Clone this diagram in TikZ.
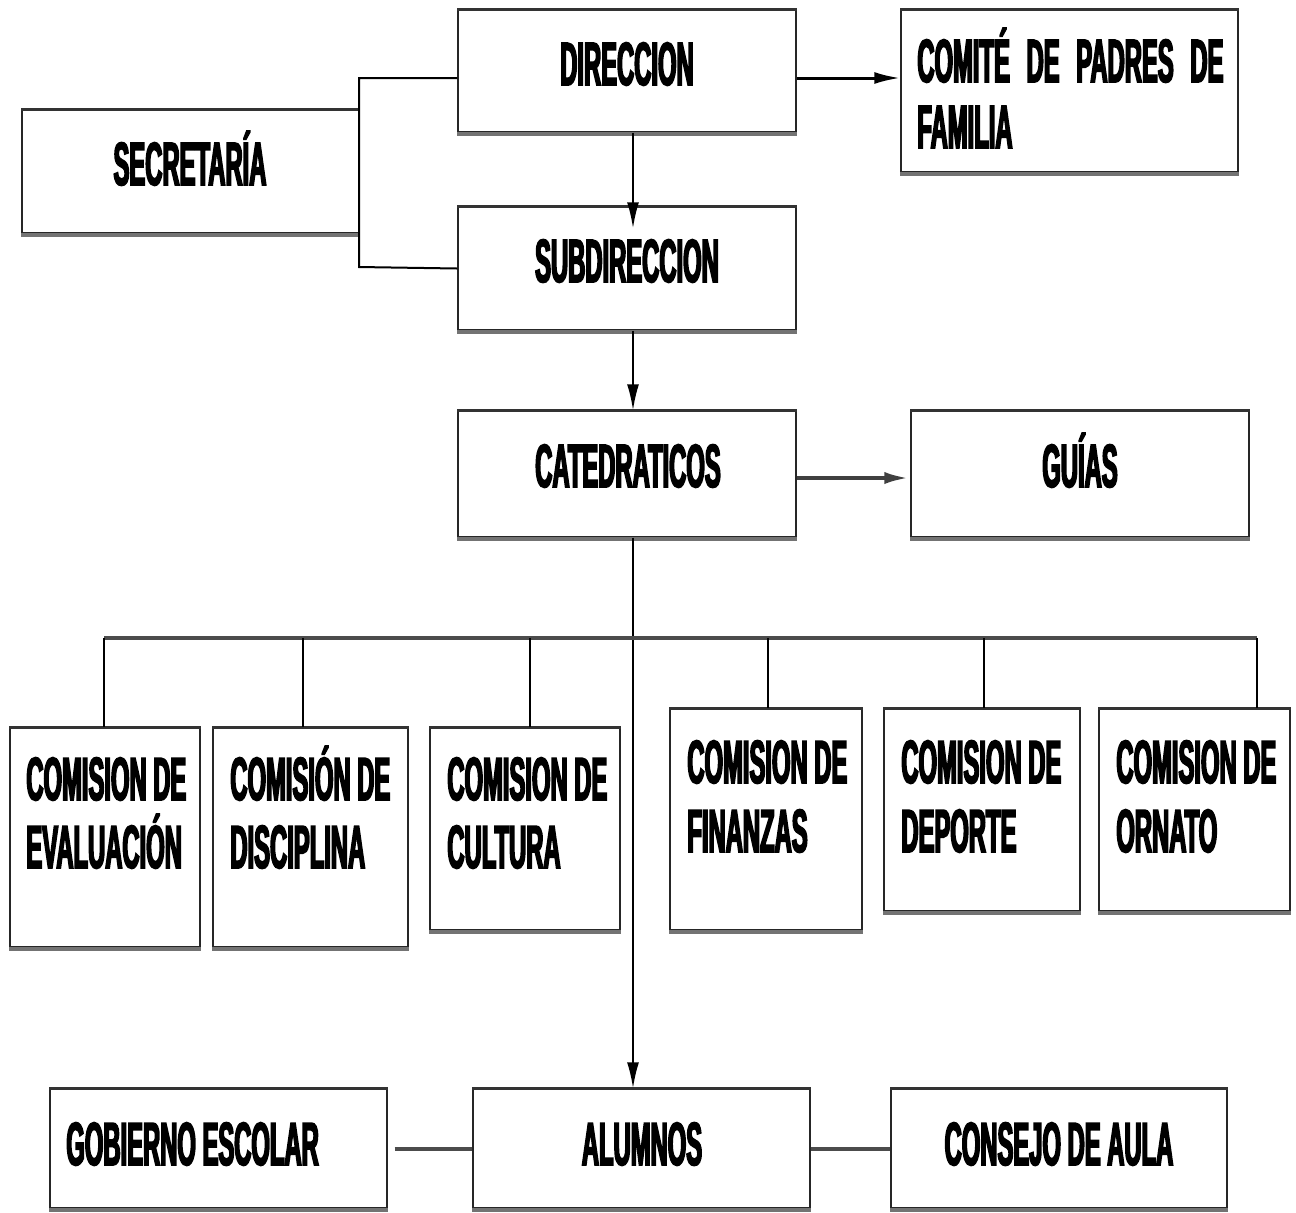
\documentclass[tikz,border=0pt]{standalone}
\usepackage{fontspec}
\usetikzlibrary{arrows.meta,fit}
\newfontfamily\cond{Liberation Sans}[FakeStretch=0.39,FakeBold=2.6]
\tikzset{
  boxst/.style={draw=black!85, line width=0.7pt, fill=white, inner sep=0pt},
  topln/.style={draw=black!80, line width=1.3pt},
  botln/.style={draw=black!55, line width=2pt},
  lbl/.style={font=\cond\bfseries\fontsize{30.5}{34}\selectfont, inner sep=0pt, anchor=base, text=black},
  lbll/.style={lbl, anchor=base west, align=left},
  conn/.style={draw=black, line width=1pt},
  thickconn/.style={draw=black!70, line width=2pt},
  arr/.style={conn, -{Latex[length=13pt,width=6pt]}},
}
\newcommand\mkbox[5]{%
  \node[boxst, fit={(#2,#3)(#4,#5)}] (#1) {};
  \draw[topln] (#1.north west) -- (#1.north east);
  \draw[botln] ([yshift=-0.7pt]#1.south west) -- ([yshift=-0.7pt]#1.south east);
}
\begin{document}
\begin{tikzpicture}[x=0.5pt,y=-0.5pt]
\useasboundingbox (0,0) rectangle (1296,1212);
\clip (0,0) rectangle (1296,1212);
\fill[white] (0,0) rectangle (1296,1212);

\coordinate (j1) at (359,78);
\coordinate (j2) at (359,267);

% boxes
\mkbox{sec}{22}{110}{359}{233}
\mkbox{dir}{458}{10}{796}{132}
\mkbox{com}{901}{10}{1238}{172}
\mkbox{sub}{458}{207}{796}{330}
\mkbox{cat}{458}{411}{796}{537}
\mkbox{gui}{911}{411}{1249}{537}
\mkbox{k1}{10}{728}{200}{947}
\mkbox{k2}{213}{728}{408}{947}
\mkbox{k3}{430}{728}{620}{930}
\mkbox{k4}{670}{709}{862}{930}
\mkbox{k5}{884}{709}{1080}{911}
\mkbox{k6}{1099}{709}{1290}{911}
\mkbox{gob}{50}{1089}{387}{1208}
\mkbox{alu}{473}{1089}{810}{1208}
\mkbox{con}{891}{1089}{1227}{1208}

% texts
\node[lbl] at (190,185) {SECRETARÍA};
\node[lbl] at (627,85) {DIRECCION};
\node[lbl] at (627,282) {SUBDIRECCION};
\node[lbl] at (628,487) {CATEDRATICOS};
\node[lbl] at (1080,487) {GUÍAS};
\node[lbll] at (917,82) {\makebox[153pt][s]{COMITÉ\hfill DE\hfill PADRES\hfill DE}};
\node[lbll] at (917,148) {FAMILIA};
\node[lbll] at (26,800) {COMISION DE};
\node[lbll] at (26,868) {EVALUACIÓN};
\node[lbll] at (230,800) {COMISIÓN DE};
\node[lbll] at (230,868) {DISCIPLINA};
\node[lbll] at (447,800) {COMISION DE};
\node[lbll] at (447,868) {CULTURA};
\node[lbll] at (687,783) {COMISION DE};
\node[lbll] at (687,852) {FINANZAS};
\node[lbll] at (901,783) {COMISION DE};
\node[lbll] at (901,852) {DEPORTE};
\node[lbll] at (1116,783) {COMISION DE};
\node[lbll] at (1116,852) {ORNATO};
\node[lbll] at (66,1165) {GOBIERNO ESCOLAR};
\node[lbl] at (642,1165) {ALUMNOS};
\node[lbl] at (1059,1165) {CONSEJO DE AULA};

% connectors
\draw[conn] ([yshift=-3.5pt]dir.west) -- (j1) -- (j2) -- (sub.west);
\draw[arr, shorten >=-11pt] ([xshift=3pt]dir.south) -- ([xshift=3pt]sub.north);
\draw[arr] ([xshift=3pt]sub.south) -- ([xshift=3pt]cat.north);
\coordinate (d1) at ([yshift=-3.5pt]dir.east);
\draw[arr, line width=1.5pt] (d1) -- (d1 -| com.west);
\coordinate (c1) at ([yshift=-2pt]cat.east);
\draw[arr, draw=black!75, line width=2.2pt] (c1) -- (c1 -| gui.west);
\coordinate (c2) at ([xshift=3pt]cat.south);
\draw[arr] (c2) -- (c2 |- alu.north);

% bus
\coordinate (b1) at (104,638);
\coordinate (b2) at (303,638);
\coordinate (b3) at (530,638);
\coordinate (b4) at (768,638);
\coordinate (b5) at (984,638);
\coordinate (b6) at (1257,638);
\draw[thickconn] (b1) -- (b6);
\draw[conn, line width=0.8pt] (b1) -- (b1 |- k1.north);
\draw[conn, line width=0.8pt] (b2) -- (b2 |- k2.north);
\draw[conn, line width=0.8pt] (b3) -- (b3 |- k3.north);
\draw[conn, line width=0.8pt] (b4) -- (b4 |- k4.north);
\draw[conn, line width=0.8pt] (b5) -- (b5 |- k5.north);
\draw[conn, line width=0.8pt] (b6) -- (b6 |- k6.north);

% bottom links
\draw[thickconn] ([xshift=3.5pt]gob.east) -- (alu.west);
\draw[thickconn] (alu.east) -- (con.west);
\end{tikzpicture}
\end{document}
